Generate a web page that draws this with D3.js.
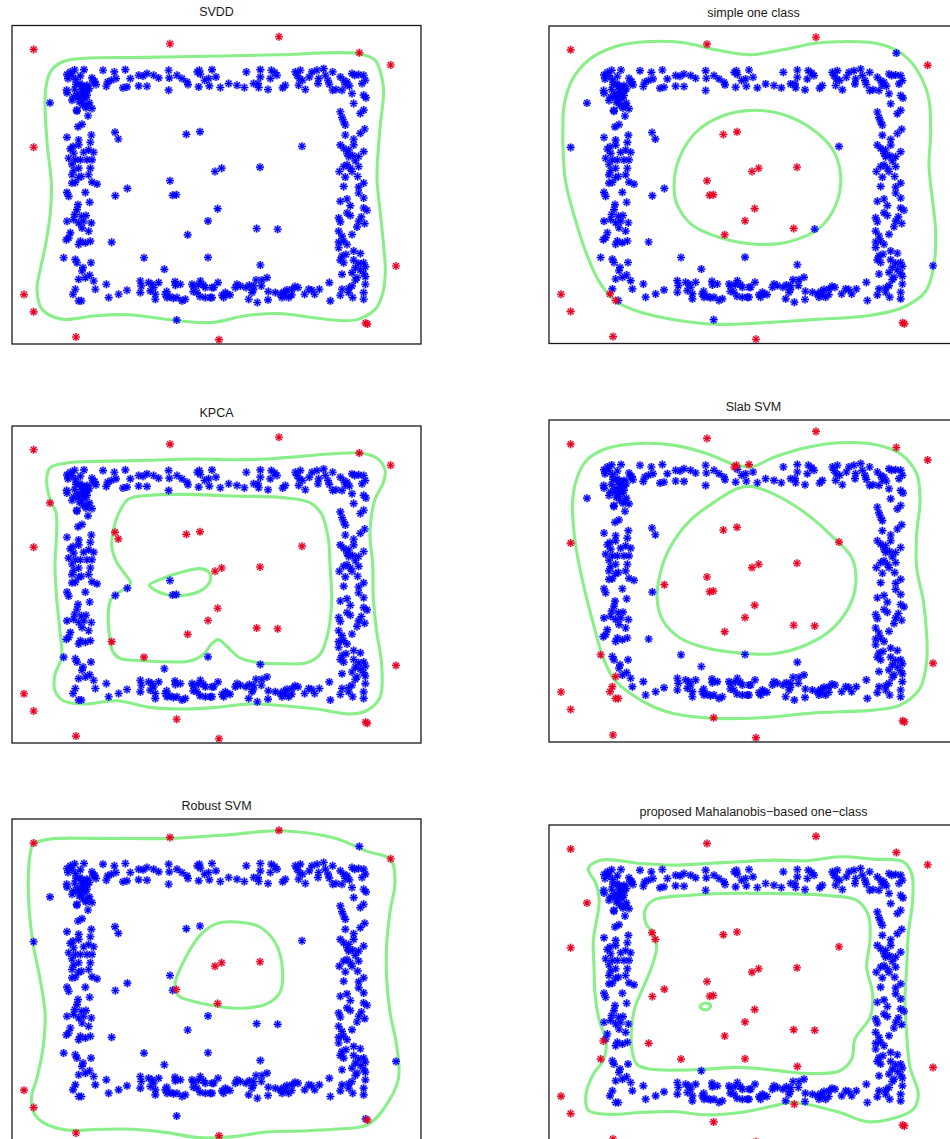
<!DOCTYPE html>
<html>
<head>
<meta charset="utf-8">
<script src="https://cdn.jsdelivr.net/npm/d3@7"></script>
<style>
  body { margin: 0; background: #fff; }
  text { font-family: "Liberation Sans", Arial, Helvetica, sans-serif; }
</style>
</head>
<body>
<svg id="fig" width="950" height="1139"></svg>
<script>
// ---------------------------------------------------------------
// Toy 2-D data set: a noisy square ring of normal samples plus a
// handful of extra samples (outliers outside the ring, samples in
// the hole, and a few ring samples some methods reject).
// ---------------------------------------------------------------
const ringPoints = [
  // upper-left corner
  [-4.50,3.32],[-4.40,3.40],[-4.27,3.46],[-3.99,3.47],[-4.47,3.20],[-4.25,3.17],[-4.10,3.28],[-3.75,3.22],
  [-3.67,3.12],[-4.23,3.03],[-4.27,2.88],[-4.05,2.98],[-3.90,3.00],[-3.83,2.90],[-4.17,2.75],[-4.01,2.80],
  [-3.89,2.84],[-4.30,2.65],[-4.16,2.65],[-4.03,2.68],[-3.90,2.70],[-4.50,2.77],[-4.13,2.50],[-3.83,2.47],
  [-4.03,2.40],[-4.20,2.22],[-3.75,2.30],[-3.93,2.32],[-3.87,2.08],[-4.17,1.75],[-4.05,1.82],[-3.63,3.02],
  [-4.35,2.55],[-4.11,3.05],[-3.91,2.95],[-3.96,2.62],[-4.06,2.52],[-3.86,2.40],[-4.21,2.25],[-3.71,3.10],
  [-4.51,2.85],[-4.35,3.30],[-4.05,2.88],
  // left side, upper half
  [-4.50,1.43],[-3.77,1.50],[-4.15,1.35],[-3.80,1.28],[-4.32,1.15],[-4.15,1.20],[-4.40,1.08],[-4.00,0.98],
  [-3.85,1.05],[-3.70,0.98],[-4.30,0.95],[-4.45,0.80],[-4.25,0.75],[-4.10,0.75],[-3.90,0.75],[-3.75,0.75],
  [-4.35,0.62],[-4.30,0.43],[-4.15,0.50],[-3.80,0.50],[-4.35,0.30],[-4.07,0.25],[-3.85,0.30],[-4.25,0.07],
  [-3.75,0.08],[-3.60,0.02],[-4.15,0.22],
  // top side
  [-3.42,3.45],[-3.08,3.40],[-2.75,3.47],[-3.28,3.10],[-3.32,2.97],[-3.17,3.15],[-3.03,3.20],[-2.60,3.20],
  [-2.82,2.92],[-2.70,2.95],[-2.35,3.30],[-2.35,2.98],[-2.22,3.28],[-2.10,3.35],[-2.10,2.97],[-1.90,3.30],
  [-1.75,3.22],[-1.45,3.45],[-1.43,3.22],[-1.45,2.85],[-1.20,3.30],[-1.05,3.20],[-0.90,3.10],[-0.87,3.02],
  [-0.50,3.33],[-0.25,3.20],[-0.03,3.25],[-0.37,3.15],[-0.55,2.95],[-0.23,2.98],[0.10,2.93],
  [0.35,3.05],[0.60,3.00],[0.82,2.93],[0.88,3.40],[1.10,3.05],[1.23,3.05],[1.30,3.47],[1.30,3.25],
  [1.25,2.93],[1.53,2.87],[1.63,3.45],[1.73,3.38],[1.80,3.30],[1.60,3.20],[1.97,2.92],[2.05,3.00],
  [2.35,3.40],[2.50,3.45],[2.40,3.30],[2.47,3.20],[2.57,3.15],[2.45,3.00],[2.65,2.87],[2.77,3.25],
  [2.85,3.40],[3.00,3.45],[3.05,3.20],[3.03,3.05],[3.20,3.50],[3.25,3.30],[3.33,3.15],[3.37,3.03],
  [3.47,3.40],[3.47,2.85],[3.57,2.87],[3.70,3.25],[3.80,3.15],[3.90,3.10],[3.75,2.85],[3.85,3.02],
  [3.97,2.98],[4.05,3.35],[4.13,3.30],[4.25,3.32],[4.40,3.30],[4.45,3.15],[4.35,3.05],[4.05,2.75],
  [4.40,2.70],[4.47,2.62],[4.10,2.45],
  // right side
  [3.70,2.20],[3.75,2.03],[3.80,1.90],[3.85,1.80],[4.30,2.15],[4.40,2.25],[4.43,1.68],[3.85,1.50],
  [4.30,1.55],[4.10,1.37],[3.70,1.20],[3.80,1.10],[3.95,1.05],[4.10,1.20],[3.90,0.95],[3.95,0.85],
  [4.07,0.88],[4.40,1.00],[4.25,0.85],[4.15,0.72],[3.80,0.55],[3.90,0.60],[4.00,0.50],[3.67,0.40],
  [3.85,0.23],[4.05,0.40],[4.25,0.55],[4.22,0.25],[4.40,0.05],[3.80,-0.05],[4.25,-0.07],
  [4.25,-0.25],[4.40,-0.40],[3.70,-0.50],[3.90,-0.43],[4.00,-0.63],[4.40,-0.70],[4.50,-0.77],[3.90,-0.85],
  [4.00,-0.93],[3.65,-1.00],[3.70,-1.12],[4.25,-1.10],[4.43,-1.17],[4.33,-0.97],[4.20,-1.27],[3.65,-1.40],
  [3.75,-1.55],[4.05,-1.50],[3.65,-1.73],[3.80,-1.70],[3.90,-1.80],[3.65,-1.90],[4.10,-2.00],[4.30,-2.07],
  [3.75,-2.15],[3.87,-2.10],[3.70,-2.27],[3.80,-2.35],[4.10,-2.27],[4.25,-2.37],[4.40,-2.35],[4.45,-2.47],
  [4.15,-2.50],[4.30,-2.57],[4.05,-2.65],[4.40,-2.67],[4.20,-2.80],[4.45,-2.77],[3.75,-2.70],[4.15,-2.87],
  [4.45,-3.00],[4.05,-3.05],[3.95,-3.12],[3.75,-3.15],[3.70,-3.33],[3.95,-3.25],[4.07,-3.40],[4.40,-3.25],
  [4.40,-3.45],
  // bottom side
  [3.37,-2.95],[3.40,-3.50],[3.07,-3.15],[2.93,-3.30],[2.75,-3.15],[2.63,-3.30],[2.43,-3.10],[2.25,-3.15],
  [2.10,-3.17],[2.00,-3.23],[1.90,-3.30],[2.05,-3.33],[2.15,-3.40],[1.95,-3.40],[1.75,-3.25],[1.50,-2.80],
  [1.35,-2.87],[1.17,-2.87],[1.33,-3.05],[1.10,-3.05],[0.97,-3.03],[0.87,-3.10],[0.60,-3.00],[0.70,-3.05],
  [0.55,-3.10],[1.05,-3.25],[0.95,-3.45],[1.53,-3.47],[0.30,-3.30],[0.25,-3.25],[0.20,-3.40],[0.15,-3.33],
  [0.03,-2.95],[-0.10,-3.10],[-0.15,-3.40],
  [-3.32,-3.00],[-3.25,-3.40],[-2.95,-3.30],[-2.70,-3.18],[-2.30,-2.90],[-2.27,-3.05],[-2.30,-3.25],[-1.95,-3.00],
  [-1.90,-3.10],[-1.85,-3.30],[-1.75,-2.95],[-1.85,-3.45],[-1.55,-3.30],[-1.50,-3.40],[-1.25,-3.03],[-1.20,-3.40],
  [-1.10,-3.00],[-1.05,-3.50],[-0.95,-3.45],[-0.75,-3.00],[-0.70,-3.07],[-0.60,-3.25],[-0.50,-2.90],[-0.35,-3.10],
  [-0.20,-3.40],[-0.15,-3.10],[-0.35,-3.40],
  [-2.05,-2.95],[-2.00,-3.20],[-1.51,-3.22],[-1.41,-3.37],[-1.31,-3.42],[-1.26,-2.92],[-0.71,-3.22],[-0.56,-3.02],
  [-0.41,-3.02],[-0.51,-3.37],[0.39,-3.32],[1.09,-3.17],[1.54,-3.22],[2.24,-3.32],[2.34,-3.07],[2.84,-3.17],
  // left side, lower half
  [-4.35,0.05],[-4.50,-0.23],[-4.45,-0.35],[-3.95,-0.23],[-3.82,-0.53],[-4.17,-0.60],[-4.20,-0.75],[-4.27,-0.90],
  [-4.07,-0.95],[-3.93,-0.93],[-4.50,-1.10],[-4.30,-1.05],[-4.15,-1.15],[-4.00,-1.10],[-3.77,-1.15],[-4.05,-1.30],
  [-3.85,-1.40],[-4.40,-1.45],[-4.45,-1.60],[-4.10,-1.70],[-3.95,-1.75],[-3.80,-1.70],[-4.15,-1.80],[-4.25,-2.25],
  [-4.20,-2.35],[-3.78,-2.35],[-4.02,-2.50],[-4.05,-2.60],[-3.82,-2.73],[-3.70,-2.90],[-3.95,-2.80],[-3.65,-3.15]
];

// Extra samples that some of the methods flag: [id, x, y]
const extraPoints = [
  ["P1",-5.50,4.08],["P2",-1.41,4.25],["P3",1.86,4.46],["P4",4.27,3.98],["P5",5.21,3.61],
  ["P6",-5.01,2.47],["P7",-5.50,1.13],["P8",-3.06,1.58],["P9",-2.96,1.38],["P10",-0.92,1.52],
  ["P11",-0.51,1.60],["P12",2.55,1.16],["P13",-0.06,0.40],["P14",0.14,0.50],["P15",1.29,0.53],
  ["P16",0.02,-0.72],["P17",-0.27,-1.09],["P18",1.19,-1.32],["P19",1.82,-1.34],["P20",-0.88,-1.51],
  ["P21",-3.16,-1.73],["P22",-2.19,-2.20],["P23",5.37,-2.45],["P24",-5.79,-3.31],["P25",-5.50,-3.83],
  ["P26",-1.21,-4.08],["P27a",4.46,-4.17],["P27b",4.51,-4.20],["P28",-4.23,-4.59],["P29",0.06,-4.67],
  ["Q1",-1.41,0.12],["Q2",-2.69,-0.11],["Q3",-3.05,-0.33],["Q4",-1.33,-0.32],["Q5",-1.22,-0.30],
  ["Q6",-0.27,-2.19],["Q7",1.30,-2.42],["Q8",-1.58,-2.55],["Q9",-4.60,-2.20],["Q10",-4.52,-1.66],
  ["Q11",1.21,-3.55],
  ["T1",-0.59,3.40],["T2",-0.53,3.45],["T3",-0.15,3.47],
  ["C1",-4.15,-2.85],["C2",-4.25,-3.15],["C3",-4.32,-3.30],["C4",-4.15,-3.50],["C5",-4.07,-3.50]
];

// Samples each method labels as outliers (drawn red)
const allP = ["P1","P2","P3","P4","P5","P6","P7","P8","P9","P10","P11","P12","P13","P14","P15",
  "P16","P17","P18","P19","P20","P21","P22","P23","P24","P25","P26","P27a","P27b","P28","P29"];
const rejectedSVDD = ["P1","P2","P3","P4","P5","P7","P23","P24","P25","P27a","P27b","P28","P29"];
const rejectedSimple = ["P1","P2","P3","P5","P10","P11","P13","P14","P15","Q1","Q4","Q5","P16","P17",
  "P18","P20","P24","P25","C3","C4","P27a","P27b","P28","P29"];
const rejectedKPCA = allP;
const rejectedSlab = ["P1","P2","P3","P4","P5","P7","P10","P11","P12","P13","P14","P15","P16","P17",
  "P18","P19","P20","P23","P24","P25","P26","P27a","P27b","P28","P29","Q1","Q2","Q4","Q5","Q9",
  "C1","C2","C3","C4","C5","T1","T2","T3"];
const rejectedRobust = ["P1","P2","P3","P5","P13","P14","P15","Q5","P16","P24","P25","P27b","P28","P29"];
const rejectedMahal = allP.concat(["Q1","Q2","Q3","Q4","Q5","Q6","Q7","Q9","Q10","Q11"]);

// Decision-boundary level curves (closed) for each method
const svddOuter = [[-5.15,2.80],[-5.00,3.40],[-4.65,3.70],[-4.15,3.80],[-2.15,3.84],[0.15,3.88],[1.85,3.92],
  [4.25,3.95],[4.75,3.75],[4.95,3.20],[5.00,2.80],[4.90,1.80],[4.82,0.80],[4.80,0.15],[4.90,-0.85],
  [5.00,-1.85],[5.05,-2.65],[4.95,-3.35],[4.75,-3.75],[4.25,-4.05],[3.85,-4.10],[2.85,-4.00],[1.85,-3.88],
  [0.85,-3.95],[-0.15,-4.15],[-1.15,-4.10],[-2.65,-3.92],[-3.65,-3.95],[-4.65,-4.05],[-5.25,-3.75],
  [-5.40,-3.15],[-5.30,-2.55],[-5.15,-1.85],[-5.00,-0.85],[-4.97,0.05],[-5.10,1.30]];

const simpleOuter = [[-5.73,1.78],[-5.70,2.38],[-5.45,3.18],[-4.95,3.78],[-4.15,4.18],[-3.15,4.33],[-2.15,4.30],
  [-1.15,4.08],[-0.15,3.93],[0.85,4.08],[1.85,4.28],[2.85,4.33],[3.65,4.28],[4.25,4.08],[4.65,3.78],
  [5.05,3.18],[5.25,2.58],[5.30,1.58],[5.25,0.58],[5.35,-0.42],[5.45,-1.42],[5.40,-2.42],[5.15,-3.22],
  [4.45,-3.72],[3.35,-3.97],[1.85,-4.07],[0.35,-4.17],[-1.15,-4.22],[-2.15,-4.12],[-3.35,-3.87],
  [-4.15,-3.52],[-4.65,-2.92],[-5.05,-2.02],[-5.40,-0.92],[-5.65,0.08],[-5.73,1.08]];
const simpleInner = [[-0.05,2.25],[0.85,2.13],[1.75,1.68],[2.35,1.08],[2.60,0.28],[2.45,-0.62],[1.95,-1.32],
  [1.05,-1.72],[0.05,-1.80],[-0.95,-1.62],[-1.85,-1.22],[-2.30,-0.62],[-2.40,-0.02],[-2.25,0.78],
  [-1.75,1.58],[-0.95,2.08]];

const kpcaOuter = [[-5.01,3.53],[-5.11,3.18],[-5.01,2.58],[-4.83,2.18],[-4.81,1.58],[-4.86,0.58],[-4.81,-0.42],
  [-4.71,-1.42],[-4.66,-2.22],[-4.86,-2.72],[-4.86,-3.22],[-4.61,-3.52],[-4.01,-3.62],[-3.01,-3.52],
  [-2.01,-3.72],[-1.01,-3.77],[-0.01,-3.72],[0.99,-3.62],[1.99,-3.67],[2.99,-3.77],[3.99,-3.92],
  [4.49,-3.82],[4.89,-3.42],[4.94,-2.42],[4.79,-1.42],[4.69,-0.42],[4.67,0.58],[4.59,1.58],[4.74,2.58],
  [4.99,3.08],[5.04,3.48],[4.79,3.83],[4.29,3.98],[3.49,3.96],[2.49,3.88],[1.49,3.80],[0.49,3.78],
  [-0.51,3.80],[-1.51,3.78],[-2.51,3.75],[-3.51,3.73],[-4.51,3.68]];
const kpcaInner = [[-2.96,2.13],[-2.66,2.58],[-2.01,2.70],[-1.01,2.73],[0.49,2.68],[1.99,2.63],[2.79,2.48],
  [3.14,2.13],[3.34,1.38],[3.39,0.58],[3.44,-0.42],[3.34,-1.42],[3.09,-2.12],[2.69,-2.37],[1.99,-2.40],
  [1.29,-2.37],[0.69,-2.22],[0.29,-1.87],[0.04,-1.67],[-0.16,-1.80],[-0.41,-2.12],[-0.81,-2.32],
  [-1.51,-2.34],[-2.31,-2.30],[-2.91,-2.24],[-3.13,-2.02],[-3.23,-1.52],[-3.26,-0.92],[-3.19,-0.47],
  [-2.96,-0.25],[-2.66,-0.07],[-2.59,0.05],[-2.73,0.28],[-3.01,0.68],[-3.16,1.18],[-3.11,1.63]];
const kpcaLoop = [[-2.03,-0.02],[-1.71,0.15],[-1.11,0.36],[-0.51,0.48],[-0.23,0.36],[-0.21,0.10],
  [-0.46,-0.17],[-0.91,-0.32],[-1.46,-0.32],[-1.86,-0.17]];

const slabOuter = [[-5.02,3.60],[-4.42,3.95],[-3.42,4.10],[-2.42,4.05],[-1.42,3.80],[-0.52,3.45],[-0.02,3.42],
  [0.58,3.68],[1.58,3.98],[2.58,4.12],[3.58,4.08],[4.38,3.80],[4.88,3.20],[4.98,2.40],[4.88,1.40],
  [4.88,0.40],[5.08,-0.60],[5.18,-1.60],[5.18,-2.40],[4.98,-3.20],[4.38,-3.70],[3.58,-3.85],[2.58,-3.90],
  [1.58,-3.95],[0.58,-4.05],[-0.42,-4.10],[-1.42,-4.08],[-2.42,-3.95],[-3.02,-3.75],[-3.72,-3.35],
  [-4.22,-2.90],[-4.52,-2.30],[-4.84,-1.20],[-5.12,-0.10],[-5.37,1.20],[-5.44,2.40],[-5.30,3.10]];
const slabInner = [[-0.12,2.82],[0.58,2.60],[1.58,2.00],[2.38,1.30],[2.93,0.70],[3.06,0.10],[2.93,-0.60],
  [2.38,-1.40],[1.58,-1.90],[0.58,-2.17],[-0.42,-2.15],[-1.42,-2.00],[-2.22,-1.70],[-2.72,-1.20],
  [-2.90,-0.60],[-2.82,0.20],[-2.52,1.00],[-1.92,1.80],[-1.12,2.40],[-0.52,2.75]];

const robustOuter = [[-5.51,4.05],[-5.01,4.20],[-3.51,4.22],[-1.41,4.22],[0.49,4.34],[1.86,4.45],[3.49,4.24],
  [4.49,3.84],[5.21,3.59],[5.34,2.92],[5.19,2.02],[5.09,1.02],[5.09,0.02],[5.19,-0.98],[5.39,-1.98],
  [5.44,-2.98],[4.99,-3.88],[4.51,-4.35],[3.49,-4.48],[2.49,-4.53],[1.49,-4.56],[0.49,-4.70],[-0.51,-4.73],
  [-1.51,-4.58],[-2.51,-4.48],[-3.51,-4.48],[-4.51,-4.50],[-5.21,-4.28],[-5.51,-3.96],[-5.56,-3.48],
  [-5.41,-2.98],[-5.21,-1.98],[-5.16,-0.98],[-5.31,0.02],[-5.51,1.02],[-5.63,2.02],[-5.66,3.02],[-5.61,3.72]];
const robustInner = [[0.59,1.72],[1.29,1.57],[1.79,1.02],[1.97,0.22],[1.89,-0.38],[1.49,-0.73],[0.69,-0.86],
  [0.02,-0.80],[-0.61,-0.68],[-1.16,-0.48],[-1.26,-0.13],[-1.01,0.52],[-0.51,1.32],[-0.01,1.67]];

const mahalOuter = [[-4.97,3.50],[-4.57,3.75],[-3.42,3.65],[-2.42,3.60],[-1.42,3.65],[-0.42,3.70],[0.58,3.75],
  [1.58,3.73],[2.58,3.85],[3.58,3.78],[4.48,3.70],[4.73,3.35],[4.76,2.55],[4.63,1.55],[4.58,0.55],
  [4.53,-0.45],[4.58,-1.45],[4.68,-2.45],[4.93,-3.25],[4.78,-3.70],[4.08,-4.00],[3.38,-4.07],[2.58,-3.80],
  [1.58,-3.55],[1.08,-3.50],[0.58,-3.60],[-0.42,-3.80],[-1.42,-3.87],[-2.42,-3.77],[-3.42,-3.80],
  [-4.42,-3.85],[-4.97,-3.73],[-5.04,-3.25],[-4.82,-2.65],[-4.50,-2.20],[-4.44,-1.65],[-4.64,-1.05],
  [-4.77,-0.25],[-4.80,0.55],[-4.82,1.35],[-4.64,2.55],[-4.74,3.05]];
const mahalInner = [[-3.27,2.25],[-3.02,2.55],[-1.92,2.70],[-0.92,2.75],[0.58,2.75],[2.08,2.70],[3.08,2.55],
  [3.43,2.10],[3.48,1.35],[3.38,0.55],[3.56,-0.25],[3.48,-0.95],[3.03,-1.60],[2.93,-2.20],[2.58,-2.55],
  [1.58,-2.63],[0.58,-2.53],[-0.42,-2.45],[-1.42,-2.50],[-2.22,-2.53],[-3.12,-2.50],[-3.52,-2.35],
  [-3.67,-1.85],[-3.67,-1.25],[-3.57,-0.65],[-3.32,-0.05],[-3.07,0.55],[-2.92,1.15],[-3.02,1.55],[-3.24,1.85]];
const mahalLoop = [[-1.62,-0.63],[-1.54,-0.55],[-1.40,-0.53],[-1.30,-0.60],[-1.37,-0.71],[-1.52,-0.72]];

const panelTitles = ["SVDD", "simple one class", "KPCA", "Slab SVM", "Robust SVM",
  "proposed Mahalanobis\u2212based one\u2212class"];

// ---------------------------------------------------------------
// Layout: 3 rows x 2 columns of axes (right column runs off-page)
// ---------------------------------------------------------------
const panels = [
  { title: panelTitles[0], box: [12, 25.5, 409, 318.5], curves: [svddOuter], rejected: rejectedSVDD },
  { title: panelTitles[1], box: [549, 26, 409, 317.5], curves: [simpleOuter, simpleInner], rejected: rejectedSimple },
  { title: panelTitles[2], box: [12, 426, 409, 317], curves: [kpcaOuter, kpcaInner, kpcaLoop], rejected: rejectedKPCA },
  { title: panelTitles[3], box: [549, 420, 409, 322], curves: [slabOuter, slabInner], rejected: rejectedSlab },
  { title: panelTitles[4], box: [12, 819, 409, 321], curves: [robustOuter, robustInner], rejected: rejectedRobust },
  { title: panelTitles[5], box: [549, 825, 409, 321], curves: [mahalOuter, mahalInner, mahalLoop], rejected: rejectedMahal }
];

const X_DOMAIN = [-6.15, 6.12];
const Y_DOMAIN = [-4.8, 4.8];
const BLUE = "#0000ff", RED = "#e8001e", GREEN = "#8aef8a";

// MATLAB-style '*' marker: plus and cross overlaid
const R = 4.0, D = 2.85;
const STAR = `M${-R},0H${R}M0,${-R}V${R}M${-D},${-D}L${D},${D}M${-D},${D}L${D},${-D}`;

const svg = d3.select("#fig");

panels.forEach((p, i) => {
  const [bx, by, bw, bh] = p.box;
  const x = d3.scaleLinear().domain(X_DOMAIN).range([bx, bx + bw]);
  const y = d3.scaleLinear().domain(Y_DOMAIN).range([by + bh, by]);

  const g = svg.append("g");
  const clipId = "clip" + i;
  g.append("clipPath").attr("id", clipId)
    .append("rect").attr("x", bx).attr("y", by).attr("width", bw).attr("height", bh);

  g.append("rect").attr("x", bx).attr("y", by).attr("width", bw).attr("height", bh)
    .attr("fill", "#fff");

  const plot = g.append("g").attr("clip-path", `url(#${clipId})`);

  const line = d3.line()
    .x(d => x(d[0])).y(d => y(d[1]))
    .curve(d3.curveCatmullRomClosed.alpha(0.5));

  plot.selectAll("path.level").data(p.curves).join("path")
    .attr("class", "level")
    .attr("d", line)
    .attr("fill", "none")
    .attr("stroke", GREEN)
    .attr("stroke-width", 3.1)
    .attr("stroke-linejoin", "round");

  const rej = new Set(p.rejected);
  const blue = ringPoints.map(d => ({ x: d[0], y: d[1] }))
    .concat(extraPoints.filter(d => !rej.has(d[0])).map(d => ({ x: d[1], y: d[2] })));
  const red = extraPoints.filter(d => rej.has(d[0])).map(d => ({ x: d[1], y: d[2] }));

  function drawStars(data, color, haloColor) {
    const s = plot.append("g");
    // soft halo then crisp core
    s.selectAll("path.halo").data(data).join("path")
      .attr("class", "halo")
      .attr("transform", d => `translate(${x(d.x)},${y(d.y)})`)
      .attr("d", STAR)
      .attr("stroke", haloColor).attr("stroke-opacity", 0.32).attr("stroke-width", 2.8)
      .attr("fill", "none");
    s.selectAll("path.core").data(data).join("path")
      .attr("class", "core")
      .attr("transform", d => `translate(${x(d.x)},${y(d.y)})`)
      .attr("d", STAR)
      .attr("stroke", color).attr("stroke-width", 1.15)
      .attr("fill", "none");
  }
  drawStars(blue, BLUE, BLUE);
  drawStars(red, RED, "#c8205a");

  g.append("rect").attr("x", bx).attr("y", by).attr("width", bw).attr("height", bh)
    .attr("fill", "none").attr("stroke", "#1a1a1a").attr("stroke-width", 1.3);

  g.append("text")
    .attr("x", bx + bw / 2).attr("y", by - 13.5)
    .attr("text-anchor", "middle")
    .attr("dominant-baseline", "central")
    .attr("font-size", 12.5)
    .attr("fill", "#1a1a1a")
    .text(p.title);
});
</script>
</body>
</html>
